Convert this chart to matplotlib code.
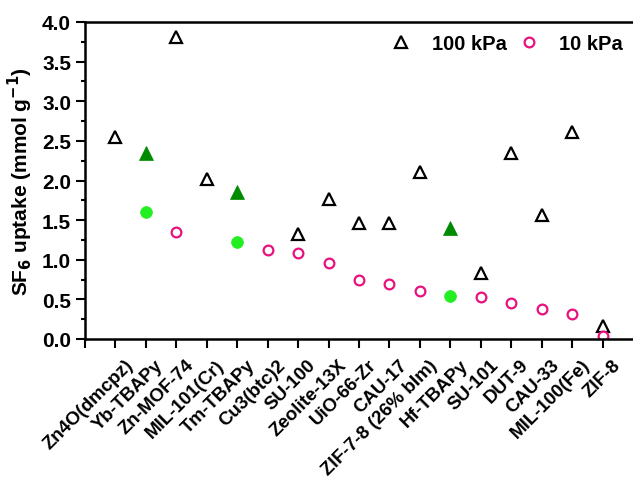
import numpy as np
import matplotlib.pyplot as plt
import matplotlib.transforms as mtransforms
from matplotlib.ticker import MultipleLocator, FormatStrFormatter

plt.rcParams['font.family'] = ['Liberation Sans', 'DejaVu Sans']
plt.rcParams['font.weight'] = 'bold'
plt.rcParams['mathtext.default'] = 'bf'

materials = ['Zn4O(dmcpz)', 'Yb-TBAPy', 'Zn-MOF-74', 'MIL-101(Cr)', 'Tm-TBAPy',
             'Cu3(btc)2', 'SU-100', 'Zeolite-13X', 'UiO-66-Zr', 'CAU-17',
             'ZIF-7-8 (26% bIm)', 'Hf-TBAPy', 'SU-101', 'DUT-9', 'CAU-33',
             'MIL-100(Fe)', 'ZIF-8']
uptake_100 = [2.55, 2.35, 3.81, 2.02, 1.85, np.nan, 1.33, 1.77, 1.47, 1.47,
              2.11, 1.40, 0.83, 2.35, 1.57, 2.61, 0.17]
uptake_10 = [np.nan, 1.60, 1.35, np.nan, 1.23, 1.12, 1.09, 0.96, 0.75, 0.70,
             0.60, 0.545, 0.53, 0.45, 0.38, 0.31, 0.035]
tbapy = [1, 4, 11]

x = np.arange(len(materials))
p100 = np.array(uptake_100)
p10 = np.array(uptake_10)
open100 = p100.copy()
open10 = p10.copy()
open100[tbapy] = np.nan
open10[tbapy] = np.nan

fs = 15

fig = plt.figure(figsize=(6.33, 4.81), dpi=100)
ax = fig.add_axes([85 / 633, 141 / 481, 548 / 633, 317 / 481])

ax.plot(x, open100, ls='none', marker='^', ms=8.5, mfc='white', mec='black',
        mew=1.6, label='100 kPa')
ax.plot(x, open10, ls='none', marker='o', ms=7, mfc='white', mec='#e8117f',
        mew=1.6, label='10 kPa')
ax.plot(x[tbapy], p100[tbapy], ls='none', marker='^', ms=9.5, mfc='#008a00',
        mec='#008a00', mew=0.5)
ax.plot(x[tbapy], p10[tbapy], ls='none', marker='o', ms=8.5, mfc='#22ee22',
        mec='#22ee22', mew=0.5)

ax.set_xlim(-1, 17)
ax.set_ylim(0, 4.0)
ax.set_xticks(np.arange(-1, 17))
ax.set_xticklabels([])

# category labels, rotated and shifted down-right like the original
shift = mtransforms.ScaledTranslation(0.09, -0.17, fig.dpi_scale_trans)
for xi, name in zip(x, materials):
    ax.text(xi, 0, name, transform=ax.get_xaxis_transform() + shift,
            rotation=45, ha='right', va='top', rotation_mode='anchor',
            fontsize=13.5, fontweight='bold', clip_on=False)

ax.yaxis.set_major_locator(MultipleLocator(0.5))
ax.yaxis.set_minor_locator(MultipleLocator(0.25))
ax.yaxis.set_major_formatter(FormatStrFormatter('%.1f'))
ax.tick_params(axis='y', labelsize=fs)
ax.tick_params(axis='both', which='major', direction='out', length=6.5, width=1.5)
ax.tick_params(axis='y', which='minor', direction='out', length=3, width=1.5)
ax.tick_params(axis='y', pad=3.5)

for s in ['left', 'bottom', 'top']:
    ax.spines[s].set_linewidth(1.8)
ax.spines['right'].set_visible(False)

ax.set_ylabel('SF$_6$ uptake (mmol g$^{-1}$)', fontsize=fs, fontweight='bold',
              labelpad=5)

ax.legend(loc='upper right', ncol=2, frameon=False, fontsize=14.5,
          handlelength=1.0, handletextpad=1.0, columnspacing=0.6,
          borderaxespad=0.2, bbox_to_anchor=(1.003, 1.0))

fig.savefig('out.png', dpi=100)
